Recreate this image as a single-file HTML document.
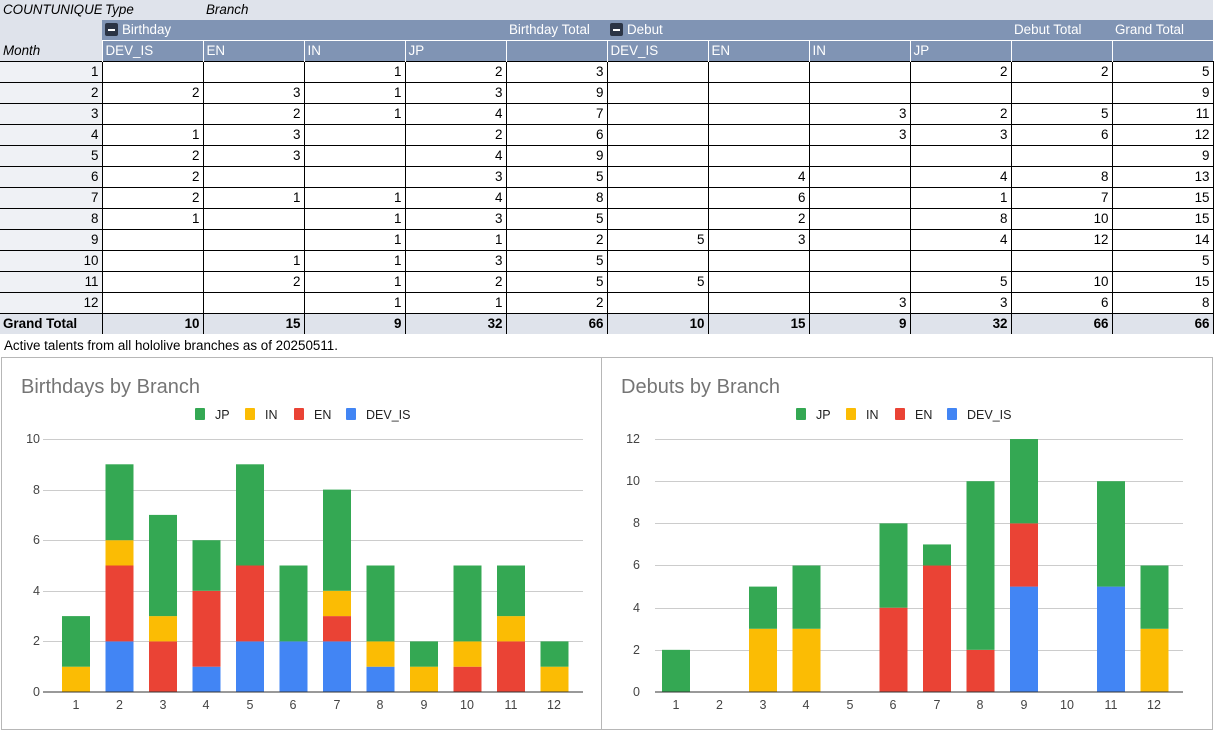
<!DOCTYPE html>
<html><head><meta charset="utf-8"><style>
body{margin:0;width:1217px;height:737px;overflow:hidden;background:#fff;font-family:"Liberation Sans",sans-serif;font-size:13.4px;color:#000;position:relative}
table{position:absolute;left:0;top:0;border-collapse:collapse;table-layout:fixed;width:1213px}
td{padding:0 3px;height:20px;white-space:nowrap;overflow:hidden;text-align:right;border:1px solid #000;line-height:20px}
tr.h0 td{background:#dfe3eb;border:none;text-align:left;font-style:italic;height:20px;line-height:20px}
tr.h1 td{background:#8094b4;color:#fff;border:none;text-align:left}
tr.h2 td{background:#8094b4;color:#fff;text-align:left;border:none;border-left:1px solid #fff;border-top:1px solid #fff}
tr.h1 td.rh,tr.h2 td.rh{background:#dfe3eb;color:#000;font-style:italic;border:none}
td.rh{background:#eff1f5;border-left:none}
tr.gt td{background:#dfe3eb;font-weight:bold;border-bottom:none}
.btn{display:inline-block;width:13px;height:13px;background:#2b3445;border-radius:2px;vertical-align:-2px;margin-right:4px;position:relative}
.btn:after{content:"";position:absolute;left:3px;top:6px;width:7px;height:2px;background:#fff}
.note{position:absolute;left:4px;top:338px}
</style></head><body>
<table>
<colgroup><col style="width:102px"><col span="11" style="width:101px"></colgroup>
<tr class="h0"><td>COUNTUNIQUE</td><td>Type</td><td>Branch</td><td></td><td></td><td></td><td></td><td></td><td></td><td></td><td></td><td></td></tr>
<tr class="h1"><td class="rh"></td><td colspan="4"><span class="btn"></span>Birthday</td><td>Birthday Total</td><td colspan="4"><span class="btn"></span>Debut</td><td>Debut Total</td><td>Grand Total</td></tr>
<tr class="h2"><td class="rh" style="vertical-align:bottom">Month</td><td>DEV_IS</td><td>EN</td><td>IN</td><td>JP</td><td></td><td>DEV_IS</td><td>EN</td><td>IN</td><td>JP</td><td></td><td></td></tr>
<tr><td class="rh">1</td><td></td><td></td><td>1</td><td>2</td><td>3</td><td></td><td></td><td></td><td>2</td><td>2</td><td>5</td></tr>
<tr><td class="rh">2</td><td>2</td><td>3</td><td>1</td><td>3</td><td>9</td><td></td><td></td><td></td><td></td><td></td><td>9</td></tr>
<tr><td class="rh">3</td><td></td><td>2</td><td>1</td><td>4</td><td>7</td><td></td><td></td><td>3</td><td>2</td><td>5</td><td>11</td></tr>
<tr><td class="rh">4</td><td>1</td><td>3</td><td></td><td>2</td><td>6</td><td></td><td></td><td>3</td><td>3</td><td>6</td><td>12</td></tr>
<tr><td class="rh">5</td><td>2</td><td>3</td><td></td><td>4</td><td>9</td><td></td><td></td><td></td><td></td><td></td><td>9</td></tr>
<tr><td class="rh">6</td><td>2</td><td></td><td></td><td>3</td><td>5</td><td></td><td>4</td><td></td><td>4</td><td>8</td><td>13</td></tr>
<tr><td class="rh">7</td><td>2</td><td>1</td><td>1</td><td>4</td><td>8</td><td></td><td>6</td><td></td><td>1</td><td>7</td><td>15</td></tr>
<tr><td class="rh">8</td><td>1</td><td></td><td>1</td><td>3</td><td>5</td><td></td><td>2</td><td></td><td>8</td><td>10</td><td>15</td></tr>
<tr><td class="rh">9</td><td></td><td></td><td>1</td><td>1</td><td>2</td><td>5</td><td>3</td><td></td><td>4</td><td>12</td><td>14</td></tr>
<tr><td class="rh">10</td><td></td><td>1</td><td>1</td><td>3</td><td>5</td><td></td><td></td><td></td><td></td><td></td><td>5</td></tr>
<tr><td class="rh">11</td><td></td><td>2</td><td>1</td><td>2</td><td>5</td><td>5</td><td></td><td></td><td>5</td><td>10</td><td>15</td></tr>
<tr><td class="rh">12</td><td></td><td></td><td>1</td><td>1</td><td>2</td><td></td><td></td><td>3</td><td>3</td><td>6</td><td>8</td></tr>
<tr class="gt"><td class="rh" style="text-align:left;background:#dfe3eb">Grand Total</td><td>10</td><td>15</td><td>9</td><td>32</td><td>66</td><td>10</td><td>15</td><td>9</td><td>32</td><td>66</td><td>66</td></tr>
</table>
<div class="note">Active talents from all hololive branches as of 20250511.</div>
<svg style="position:absolute;left:0;top:0" width="1217" height="737" font-family="Liberation Sans, sans-serif">
<rect x="1.5" y="357.5" width="1211" height="372" fill="none" stroke="#b7b7b7"/>
<line x1="601.5" y1="357" x2="601.5" y2="730" stroke="#b7b7b7"/>
<text x="21" y="393" font-size="20" fill="#757575">Birthdays by Branch</text>
<text x="621" y="393" font-size="20" fill="#757575">Debuts by Branch</text>
<g font-size="12.5" fill="#222">
<rect x="195" y="408" width="10" height="12" rx="1" fill="#34a853"/><text x="215" y="419">JP</text>
<rect x="245" y="408" width="10" height="12" rx="1" fill="#fbbc04"/><text x="265" y="419">IN</text>
<rect x="294" y="408" width="10" height="12" rx="1" fill="#ea4335"/><text x="314" y="419">EN</text>
<rect x="346" y="408" width="10" height="12" rx="1" fill="#4285f4"/><text x="366" y="419">DEV_IS</text>
<rect x="796" y="408" width="10" height="12" rx="1" fill="#34a853"/><text x="816" y="419">JP</text>
<rect x="846" y="408" width="10" height="12" rx="1" fill="#fbbc04"/><text x="866" y="419">IN</text>
<rect x="895" y="408" width="10" height="12" rx="1" fill="#ea4335"/><text x="915" y="419">EN</text>
<rect x="947" y="408" width="10" height="12" rx="1" fill="#4285f4"/><text x="967" y="419">DEV_IS</text>
</g>
<g stroke="#ccc">
<line x1="43" y1="439.5" x2="583" y2="439.5"/><line x1="43" y1="490.5" x2="583" y2="490.5"/><line x1="43" y1="540.5" x2="583" y2="540.5"/><line x1="43" y1="591.5" x2="583" y2="591.5"/><line x1="43" y1="641.5" x2="583" y2="641.5"/>
<line x1="655" y1="439.5" x2="1183" y2="439.5"/><line x1="655" y1="481.5" x2="1183" y2="481.5"/><line x1="655" y1="523.5" x2="1183" y2="523.5"/><line x1="655" y1="565.5" x2="1183" y2="565.5"/><line x1="655" y1="608.5" x2="1183" y2="608.5"/><line x1="655" y1="650.5" x2="1183" y2="650.5"/>
</g>
<g font-size="12.5" fill="#444" text-anchor="end">
<text x="40" y="443">10</text><text x="40" y="494">8</text><text x="40" y="544">6</text><text x="40" y="595">4</text><text x="40" y="645">2</text><text x="40" y="696">0</text>
<text x="640" y="443">12</text><text x="640" y="485">10</text><text x="640" y="527">8</text><text x="640" y="569">6</text><text x="640" y="612">4</text><text x="640" y="654">2</text><text x="640" y="696">0</text>
</g>
<g font-size="12.5" fill="#444" text-anchor="middle">
<text x="76" y="709">1</text><text x="119.5" y="709">2</text><text x="163" y="709">3</text><text x="206" y="709">4</text><text x="250" y="709">5</text><text x="293" y="709">6</text><text x="337" y="709">7</text><text x="380" y="709">8</text><text x="424" y="709">9</text><text x="467" y="709">10</text><text x="511" y="709">11</text><text x="554" y="709">12</text>
<text x="676" y="709">1</text><text x="719.5" y="709">2</text><text x="763" y="709">3</text><text x="806" y="709">4</text><text x="850" y="709">5</text><text x="893" y="709">6</text><text x="937" y="709">7</text><text x="980" y="709">8</text><text x="1024" y="709">9</text><text x="1067" y="709">10</text><text x="1111" y="709">11</text><text x="1154" y="709">12</text>
</g>
<g id="bars"></g>
<line x1="43" y1="692" x2="583" y2="692" stroke="#333"/>
<line x1="655" y1="692" x2="1183" y2="692" stroke="#333"/>
</svg>
<script>
var B=[[0,0,1,2],[2,3,1,3],[0,2,1,4],[1,3,0,2],[2,3,0,4],[2,0,0,3],[2,1,1,4],[1,0,1,3],[0,0,1,1],[0,1,1,3],[0,2,1,2],[0,0,1,1]];
var D=[[0,0,0,2],[0,0,0,0],[0,0,3,2],[0,0,3,3],[0,0,0,0],[0,4,0,4],[0,6,0,1],[0,2,0,8],[5,3,0,4],[0,0,0,0],[5,0,0,5],[0,0,3,3]];
var C=["#4285f4","#ea4335","#fbbc04","#34a853"],s="";
function draw(data,x0,u){for(var i=0;i<12;i++){var cx=x0+i*43.5,y=692;for(var k=0;k<4;k++){var h=data[i][k]*u;if(h>0){y-=h;s+='<rect x="'+(cx-14)+'" y="'+y+'" width="28" height="'+h+'" fill="'+C[k]+'"/>';}}}}
draw(B,76,25.3);draw(D,676,21.08);
document.getElementById("bars").innerHTML=s;
</script>
</body></html>
